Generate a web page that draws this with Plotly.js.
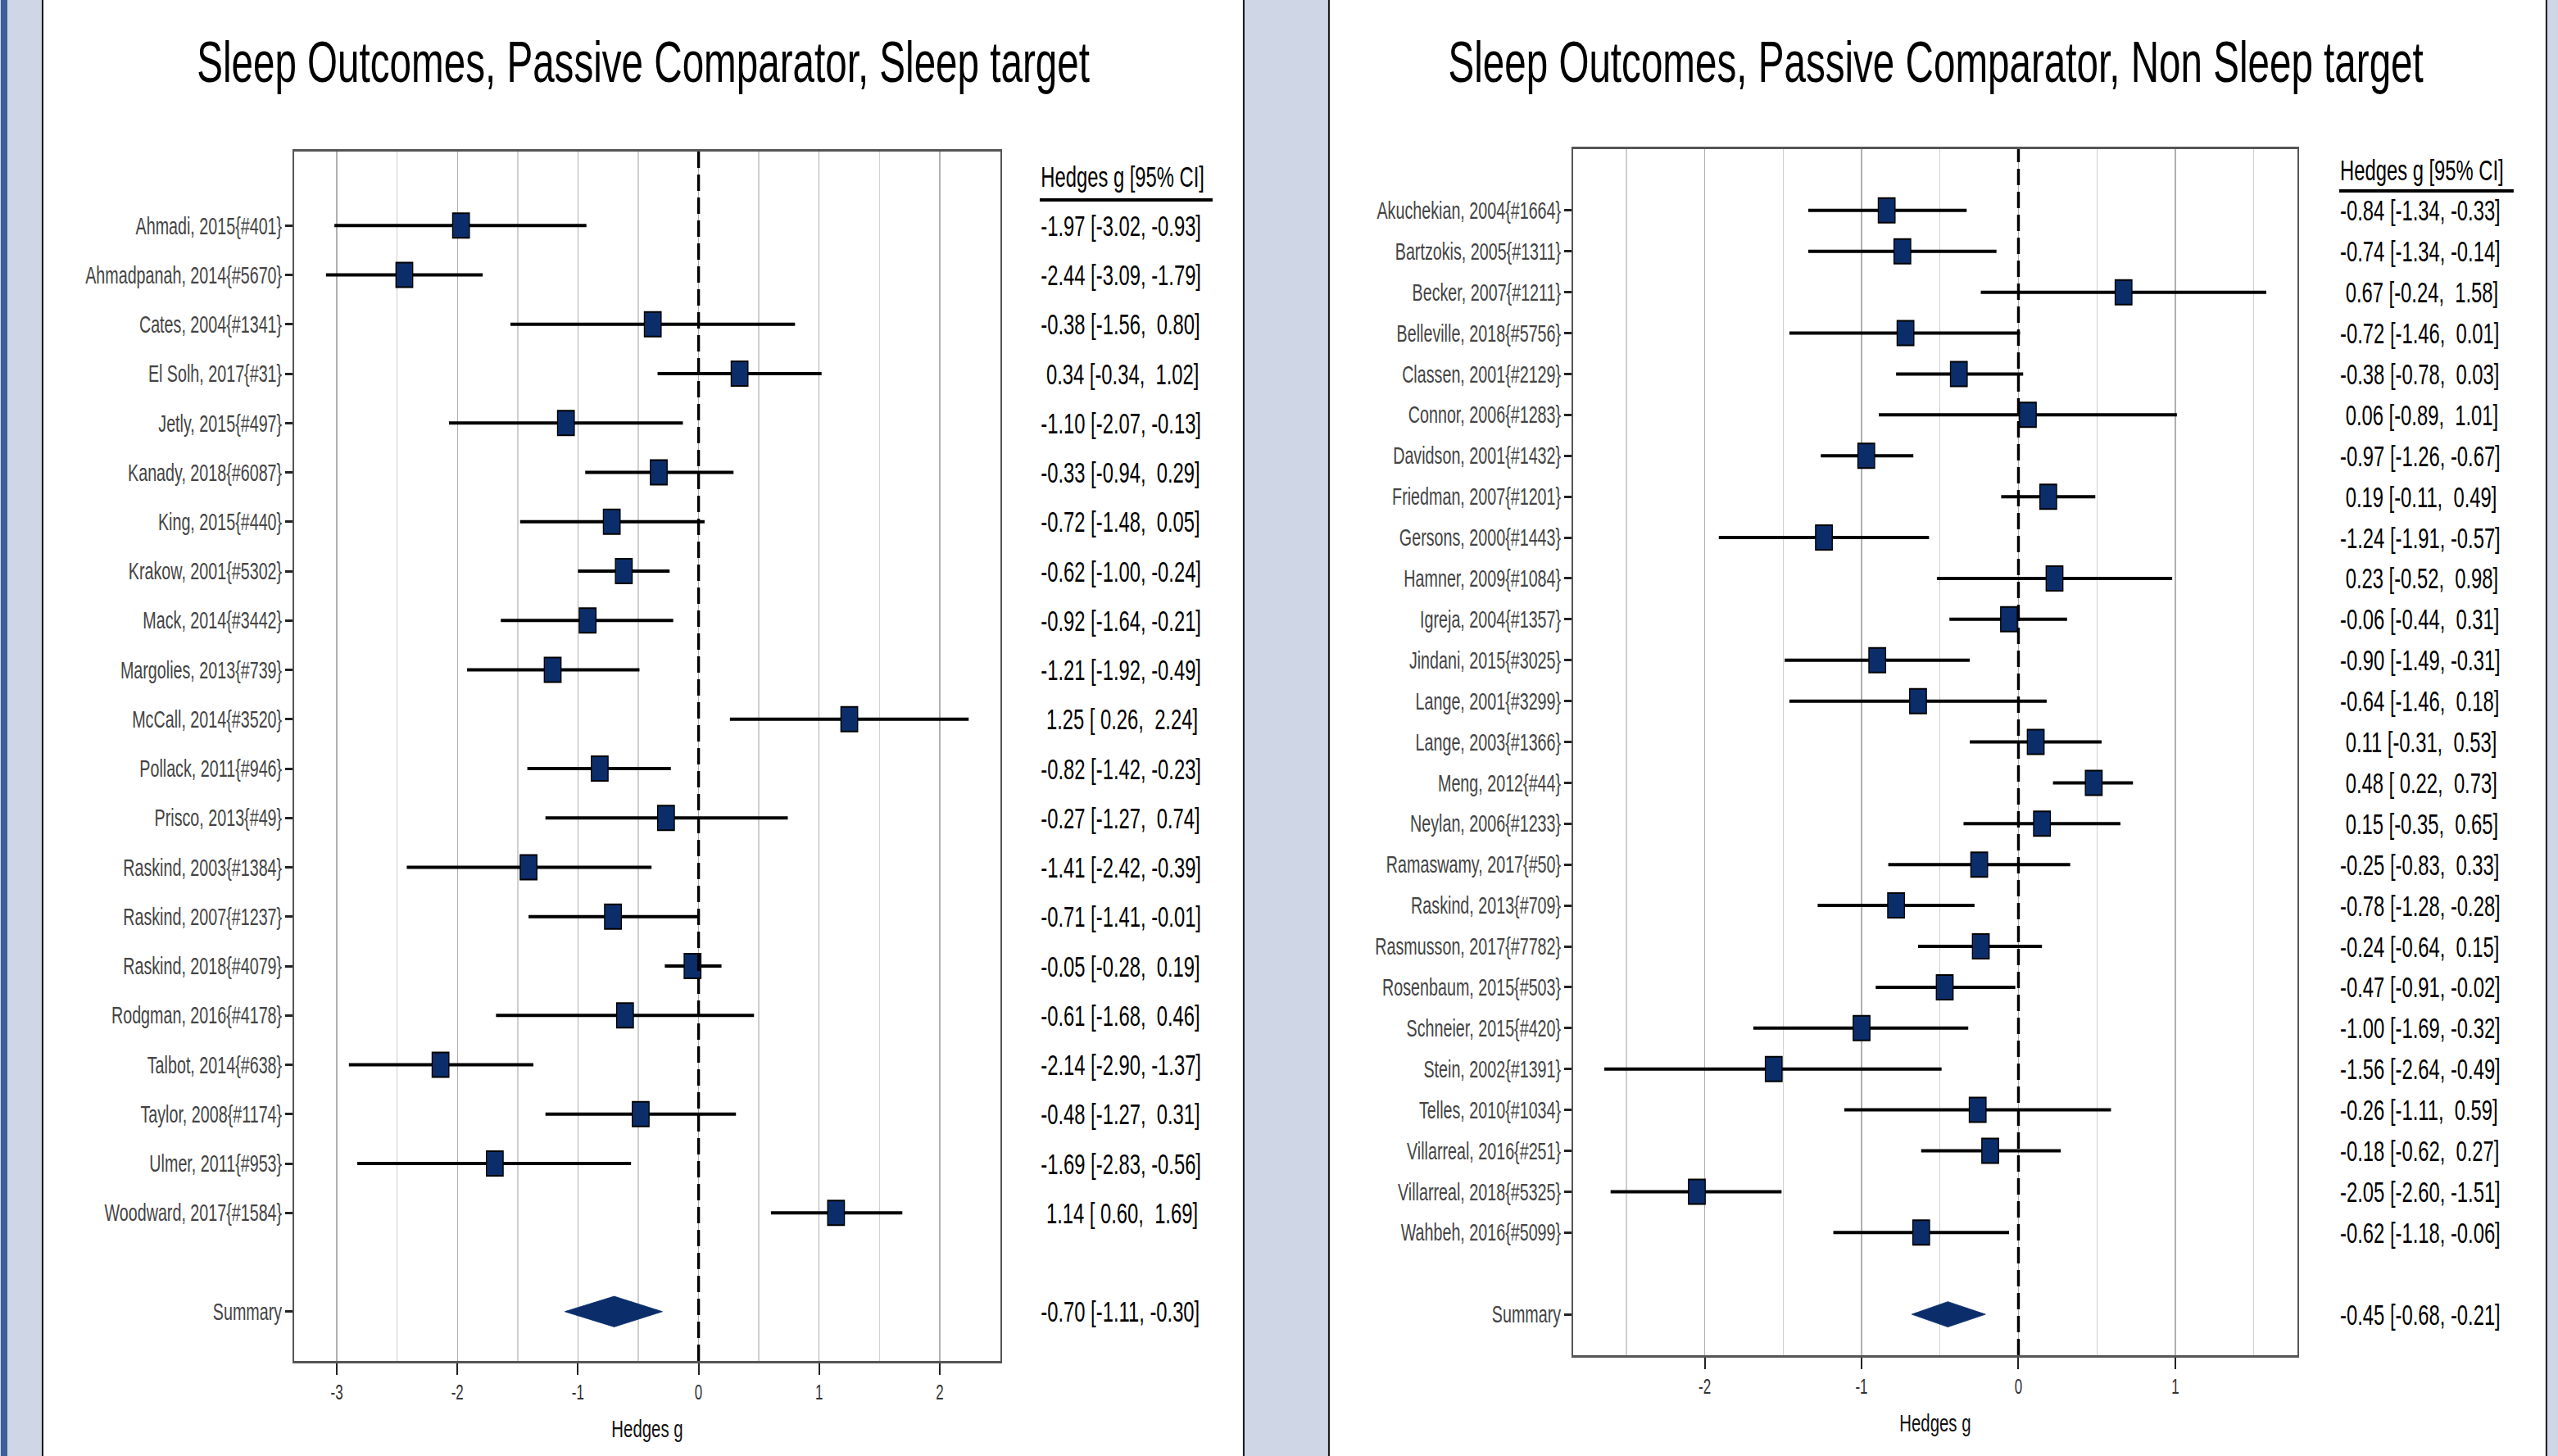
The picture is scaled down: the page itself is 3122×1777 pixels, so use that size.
<!DOCTYPE html>
<html><head><meta charset="utf-8">
<script src="https://cdn.plot.ly/plotly-3.0.1.min.js"></script>
<style>
html,body{margin:0;padding:0;overflow:hidden;background:#cfd6e6;}
#wrap{width:3122px;height:1777px;overflow:hidden;position:relative;}
#chart{position:absolute;left:0;top:0;transform-origin:0 0;}
</style></head><body>
<div id="wrap"><div id="chart"></div></div>
<script>
// ---------- data: panel A (Sleep target) ----------
const studiesA = ["Ahmadi, 2015{#401}","Ahmadpanah, 2014{#5670}","Cates, 2004{#1341}","El Solh, 2017{#31}","Jetly, 2015{#497}","Kanady, 2018{#6087}","King, 2015{#440}","Krakow, 2001{#5302}","Mack, 2014{#3442}","Margolies, 2013{#739}","McCall, 2014{#3520}","Pollack, 2011{#946}","Prisco, 2013{#49}","Raskind, 2003{#1384}","Raskind, 2007{#1237}","Raskind, 2018{#4079}","Rodgman, 2016{#4178}","Talbot, 2014{#638}","Taylor, 2008{#1174}","Ulmer, 2011{#953}","Woodward, 2017{#1584}"];
const estA  = [-1.97,-2.44,-0.38,0.34,-1.10,-0.33,-0.72,-0.62,-0.92,-1.21,1.25,-0.82,-0.27,-1.41,-0.71,-0.05,-0.61,-2.14,-0.48,-1.69,1.14];
const lowA  = [-3.02,-3.09,-1.56,-0.34,-2.07,-0.94,-1.48,-1.00,-1.64,-1.92,0.26,-1.42,-1.27,-2.42,-1.41,-0.28,-1.68,-2.90,-1.27,-2.83,0.60];
const highA = [-0.93,-1.79,0.80,1.02,-0.13,0.29,0.05,-0.24,-0.21,-0.49,2.24,-0.23,0.74,-0.39,-0.01,0.19,0.46,-1.37,0.31,-0.56,1.69];
const summaryA = [-0.70,-1.11,-0.30];   // estimate, lower, upper
const xTicksA = [-3,-2,-1,0,1,2];
const titleA = "Sleep Outcomes, Passive Comparator, Sleep target";

// ---------- data: panel B (Non Sleep target) ----------
const studiesB = ["Akuchekian, 2004{#1664}","Bartzokis, 2005{#1311}","Becker, 2007{#1211}","Belleville, 2018{#5756}","Classen, 2001{#2129}","Connor, 2006{#1283}","Davidson, 2001{#1432}","Friedman, 2007{#1201}","Gersons, 2000{#1443}","Hamner, 2009{#1084}","Igreja, 2004{#1357}","Jindani, 2015{#3025}","Lange, 2001{#3299}","Lange, 2003{#1366}","Meng, 2012{#44}","Neylan, 2006{#1233}","Ramaswamy, 2017{#50}","Raskind, 2013{#709}","Rasmusson, 2017{#7782}","Rosenbaum, 2015{#503}","Schneier, 2015{#420}","Stein, 2002{#1391}","Telles, 2010{#1034}","Villarreal, 2016{#251}","Villarreal, 2018{#5325}","Wahbeh, 2016{#5099}"];
const estB  = [-0.84,-0.74,0.67,-0.72,-0.38,0.06,-0.97,0.19,-1.24,0.23,-0.06,-0.90,-0.64,0.11,0.48,0.15,-0.25,-0.78,-0.24,-0.47,-1.00,-1.56,-0.26,-0.18,-2.05,-0.62];
const lowB  = [-1.34,-1.34,-0.24,-1.46,-0.78,-0.89,-1.26,-0.11,-1.91,-0.52,-0.44,-1.49,-1.46,-0.31,0.22,-0.35,-0.83,-1.28,-0.64,-0.91,-1.69,-2.64,-1.11,-0.62,-2.60,-1.18];
const highB = [-0.33,-0.14,1.58,0.01,0.03,1.01,-0.67,0.49,-0.57,0.98,0.31,-0.31,0.18,0.53,0.73,0.65,0.33,-0.28,0.15,-0.02,-0.32,-0.49,0.59,0.27,-1.51,-0.06];
const summaryB = [-0.45,-0.68,-0.21];
const xTicksB = [-2,-1,0,1];
const titleB = "Sleep Outcomes, Passive Comparator, Non Sleep target";

const colHeader = "Hedges g [95% CI]";
const xTitle = "Hedges g";
const summaryLabel = "Summary";

// ---------- geometry (reference pixels) ----------
const SQ = 0.68;              // horizontal condensation of the reference
const PW = 3122, PH = 1777;
const W = PW / SQ;
const px = x => x / PW;
const py = y => 1 - y / PH;
const NAVY = '#0b2e6b';
const FONT = 'Liberation Sans, Arial, Helvetica, sans-serif';
const NB = '\u00A0';

document.getElementById('chart').style.transform = 'scaleX(' + SQ + ')';

function pad(v){ let s = v.toFixed(2); while (s.length < 5) s = ' ' + s; return s; }
function ciText(e,l,u){ return (pad(e) + ' [' + pad(l) + ', ' + pad(u) + ']').replace(/ /g, NB); }

const traces = [], annotations = [], shapes = [];

// background panels
shapes.push({type:'rect', xref:'paper', yref:'paper', x0:px(1), x1:px(9), y0:0, y1:1, fillcolor:'#3d609a', line:{width:0}, layer:'below'});
[[52,1518],[1622,3108]].forEach(([a,b])=>{
  shapes.push({type:'rect', xref:'paper', yref:'paper', x0:px(a), x1:px(b), y0:0, y1:1, fillcolor:'#ffffff', line:{width:0}, layer:'below'});
  [a,b].forEach(e=>shapes.push({type:'line', xref:'paper', yref:'paper', x0:px(e), x1:px(e), y0:0, y1:1, line:{color:'#1a1a1a', width:3}, layer:'below'}));
});

function panel(k, studies, est, low, high, summary, xTicks, title, g){
  const xa = k===1 ? 'x' : 'x2', ya = k===1 ? 'y' : 'y2';
  const n = studies.length;
  const rows = studies.map((_,i)=>i);
  const sRow = n + 1;
  // CI lines
  const lx = [], ly = [];
  rows.forEach(i=>{ lx.push(low[i], high[i], null); ly.push(i, i, null); });
  traces.push({type:'scatter', mode:'lines', x:lx, y:ly, xaxis:xa, yaxis:ya, line:{color:'#000', width:4}, hoverinfo:'skip', showlegend:false});
  // squares
  traces.push({type:'scatter', mode:'markers', x:est, y:rows, xaxis:xa, yaxis:ya,
    marker:{symbol:'square', size:30, color:NAVY, line:{color:'#000', width:2}}, showlegend:false});
  // summary diamond
  const h = 0.31;
  traces.push({type:'scatter', mode:'lines', fill:'toself', fillcolor:NAVY,
    x:[summary[1], summary[0], summary[2], summary[0], summary[1]],
    y:[sRow, sRow-h, sRow, sRow+h, sRow], xaxis:xa, yaxis:ya,
    line:{color:NAVY, width:1}, showlegend:false});
  // zero reference line
  shapes.push({type:'line', xref:xa, yref:ya+' domain', x0:0, x1:0, y0:0, y1:1, line:{color:'#000', width:5, dash:'20px,8px'}});
  // title
  annotations.push({xref:'paper', yref:'paper', x:px(g.tx), y:py(76), xanchor:'center', yanchor:'middle', showarrow:false, text:title, font:{size:70, color:'#000'}});
  // column header + underline
  annotations.push({xref:'paper', yref:'paper', x:px(g.cx), y:py(g.hy), xanchor:'left', yanchor:'middle', showarrow:false, text:colHeader, font:{size:35, color:'#000'}});
  shapes.push({type:'line', xref:'paper', yref:'paper', x0:px(g.cx), x1:px(g.ux), y0:py(g.uy), y1:py(g.uy), line:{color:'#000', width:4}});
  // values
  rows.forEach(i=>annotations.push({xref:'paper', yref:ya, x:px(g.cx), y:i, xanchor:'left', yanchor:'middle', showarrow:false, text:ciText(est[i],low[i],high[i]), font:{size:35, color:'#000'}}));
  annotations.push({xref:'paper', yref:ya, x:px(g.cx), y:sRow, xanchor:'left', yanchor:'middle', showarrow:false, text:ciText(summary[0],summary[1],summary[2]), font:{size:35, color:'#000'}});

  const xaxis = {domain:[px(g.x0), px(g.x1)], range:g.range, anchor:ya, tickmode:'array', tickvals:xTicks, ticktext:xTicks.map(String),
    ticks:'outside', ticklen:14, tickwidth:3, tickcolor:'#222', ticklabelstandoff:0,
    showgrid:true, gridcolor:'#b0b0b0', gridwidth:2,
    minor:{tickmode:'linear', tick0:0.5, dtick:1, showgrid:true, gridcolor:'#cfcfcf', gridwidth:2, ticks:''},
    zeroline:false, showline:true, mirror:true, linecolor:'#555', linewidth:3,
    tickfont:{size:25, color:'#333'}, title:{text:xTitle, font:{size:30, color:'#111'}, standoff:22}, fixedrange:true};
  const yaxis = {domain:[py(g.y1), py(g.y0)], range:[sRow+1, -1.5], anchor:xa, tickmode:'array',
    tickvals:rows.concat([sRow]), ticktext:studies.concat([summaryLabel]),
    ticks:'outside', ticklen:13, tickwidth:3, tickcolor:'#222',
    showgrid:false, zeroline:false, showline:true, mirror:true, linecolor:'#555', linewidth:3,
    tickfont:{size:29, color:'#444'}, fixedrange:true};
  return {xaxis, yaxis};
}

const A = panel(1, studiesA, estA, lowA, highA, summaryA, xTicksA, titleA,
  {x0:359, x1:1221, y0:185, y1:1661, range:[-3.354, 2.503], tx:785, cx:1269, ux:1480, hy:215, uy:244});
const B = panel(2, studiesB, estB, lowB, highB, summaryB, xTicksB, titleB,
  {x0:1920, x1:2804, y0:182, y1:1654, range:[-2.839, 1.778], tx:2363, cx:2855, ux:3068, hy:207, uy:233});

const layout = {
  width: W, height: PH, margin:{l:0,r:0,t:0,b:0,pad:0},
  paper_bgcolor:'#cfd6e6', plot_bgcolor:'#ffffff',
  font:{family:FONT, color:'#000'},
  showlegend:false,
  xaxis:A.xaxis, yaxis:A.yaxis, xaxis2:B.xaxis, yaxis2:B.yaxis,
  shapes, annotations
};
Plotly.newPlot('chart', traces, layout, {displayModeBar:false, staticPlot:true, responsive:false});
</script>
</body></html>
